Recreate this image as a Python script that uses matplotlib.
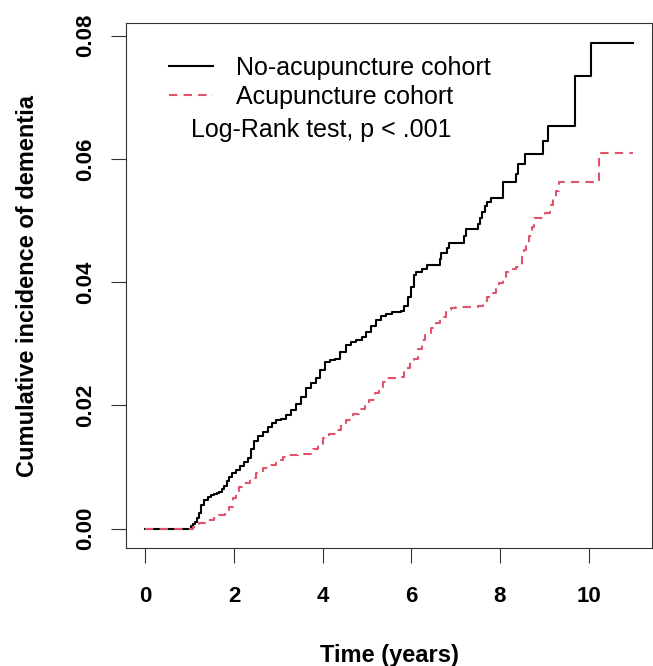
import matplotlib
matplotlib.use('Agg')
import matplotlib.pyplot as plt

plt.rcParams['font.family'] = ['Liberation Sans', 'DejaVu Sans']

# Kaplan-Meier style cumulative incidence
no_acu_time = [0.0, 1.03, 1.08, 1.12, 1.16, 1.20, 1.26, 1.33, 1.40, 1.48, 1.55, 1.62,
               1.67, 1.73, 1.78, 1.84, 1.89, 1.96, 2.04, 2.14, 2.23, 2.31, 2.38,
               2.46, 2.55, 2.65, 2.76, 2.86, 2.95, 3.06, 3.17, 3.28, 3.40, 3.50,
               3.62, 3.74, 3.85, 3.95, 4.05, 4.17, 4.28, 4.40, 4.53, 4.64, 4.75,
               4.88, 4.98, 5.08, 5.20, 5.32, 5.43, 5.57, 5.77, 5.84, 5.92, 5.99,
               6.05, 6.10, 6.25, 6.35, 6.64, 6.68, 6.80, 6.86, 7.18, 7.23, 7.50,
               7.54, 7.60, 7.66, 7.72, 7.80, 8.06, 8.36, 8.40, 8.56, 8.98, 9.09,
               9.70, 10.05, 11.0]
no_acu_inc = [0.0, 0.0005, 0.0008, 0.0011, 0.0018, 0.0025, 0.0038, 0.0046, 0.0052,
              0.0054, 0.0056, 0.0058, 0.0060, 0.0064, 0.0070, 0.0077, 0.0084,
              0.0090, 0.0095, 0.0102, 0.0109, 0.0115, 0.0130, 0.0143, 0.0151,
              0.0157, 0.0165, 0.0172, 0.0176, 0.0178, 0.0185, 0.0193, 0.0202,
              0.0214, 0.0228, 0.0236, 0.0245, 0.0258, 0.0270, 0.0273, 0.0276,
              0.0287, 0.0298, 0.0303, 0.0307, 0.0311, 0.0320, 0.0329, 0.0338,
              0.0345, 0.0349, 0.0351, 0.0353, 0.0362, 0.0376, 0.0393, 0.0412,
              0.0416, 0.0422, 0.0428, 0.0437, 0.0447, 0.0455, 0.0463, 0.0475,
              0.0486, 0.0495, 0.0505, 0.0514, 0.0524, 0.0530, 0.0537, 0.0562,
              0.0575, 0.0592, 0.0608, 0.0630, 0.0654, 0.0734, 0.0789, 0.0789]

acu_time = [0.0, 1.08, 1.20, 1.37, 1.55, 1.67, 1.80, 1.89, 1.98, 2.05, 2.12, 2.22,
            2.35, 2.50, 2.65, 2.80, 2.95, 3.10, 3.25, 3.45, 3.60, 3.77, 3.90, 4.00,
            4.15, 4.30, 4.42, 4.53, 4.68, 4.83, 4.95, 5.05, 5.18, 5.28, 5.36, 5.43,
            5.78, 5.84, 5.96, 6.07, 6.16, 6.24, 6.32, 6.44, 6.55, 6.65, 6.78, 6.90,
            7.00, 7.50, 7.62, 7.72, 7.83, 7.92, 7.98, 8.06, 8.13, 8.25, 8.36, 8.50,
            8.55, 8.60, 8.66, 8.72, 8.78, 9.02, 9.12, 9.20, 9.27, 9.33, 10.24, 11.0]
acu_inc = [0.0, 0.0003, 0.0009, 0.0014, 0.0017, 0.0022, 0.0030, 0.0036, 0.0050,
           0.0060, 0.0068, 0.0074, 0.0082, 0.0090, 0.0098, 0.0104, 0.0111, 0.0116,
           0.0120, 0.0121, 0.0122, 0.0130, 0.0138, 0.0147, 0.0154, 0.0160, 0.0168,
           0.0176, 0.0186, 0.0195, 0.0202, 0.0209, 0.0220, 0.0230, 0.0238, 0.0244,
           0.0247, 0.0260, 0.0270, 0.0276, 0.0292, 0.0306, 0.0315, 0.0325, 0.0334,
           0.0343, 0.0355, 0.0358, 0.0360, 0.0362, 0.0370, 0.0376, 0.0382, 0.0390,
           0.0398, 0.0408, 0.0417, 0.0422, 0.0425, 0.0441, 0.0452, 0.0463, 0.0475,
           0.0490, 0.0504, 0.0512, 0.0525, 0.0535, 0.0548, 0.0562, 0.0610, 0.0610]

x_ticks = [0, 2, 4, 6, 8, 10]
y_ticks = [0.00, 0.02, 0.04, 0.06, 0.08]
y_tick_labels = ['0.00', '0.02', '0.04', '0.06', '0.08']

RED = '#DF536B'

fig = plt.figure(figsize=(6.53, 6.66), dpi=100)
ax = fig.add_axes([126 / 653, 1 - 548.3 / 666, 526.3 / 653, 525.3 / 666])

ax.plot(no_acu_time, no_acu_inc, color='black', linewidth=1.5,
        drawstyle='steps-post', label='No-acupuncture cohort')
ax.plot(acu_time, acu_inc, color=RED, linewidth=1.5, linestyle=(0, (4, 3)),
        drawstyle='steps-post', label='Acupuncture cohort')

ax.set_xlim(-0.44, 11.44)
ax.set_ylim(-0.00318, 0.08207)

ax.set_xticks(x_ticks)
ax.set_xticklabels([str(t) for t in x_ticks])
ax.set_yticks(y_ticks)
ax.set_yticklabels(y_tick_labels, rotation=90, va='center')

for spine in ax.spines.values():
    spine.set_color('#333333')
    spine.set_linewidth(0.8)

ax.tick_params(axis='both', direction='out', length=10.8, width=0.8,
               color='#333333', labelsize=16)
ax.tick_params(axis='x', pad=16)
ax.tick_params(axis='y', pad=11)
for lbl in ax.get_xticklabels() + ax.get_yticklabels():
    lbl.set_fontweight('bold')

ax.set_xlabel('Time (years)', fontsize=17, fontweight='bold')
ax.set_ylabel('Cumulative incidence of dementia', fontsize=17, fontweight='bold')
ax.xaxis.set_label_coords(0.5, -0.182)
ax.yaxis.set_label_coords(-0.166, 0.5)

leg = ax.legend(loc='upper left', bbox_to_anchor=(0.081, 0.9375), frameon=False,
                fontsize=18, handlelength=1.76, handletextpad=0.92,
                labelspacing=0.21, borderpad=0, borderaxespad=0)

ax.text(0.1233, 0.797, 'Log-Rank test, p < .001', transform=ax.transAxes,
        fontsize=18, ha='left', va='center')

plt.savefig('out.png', dpi=100)
